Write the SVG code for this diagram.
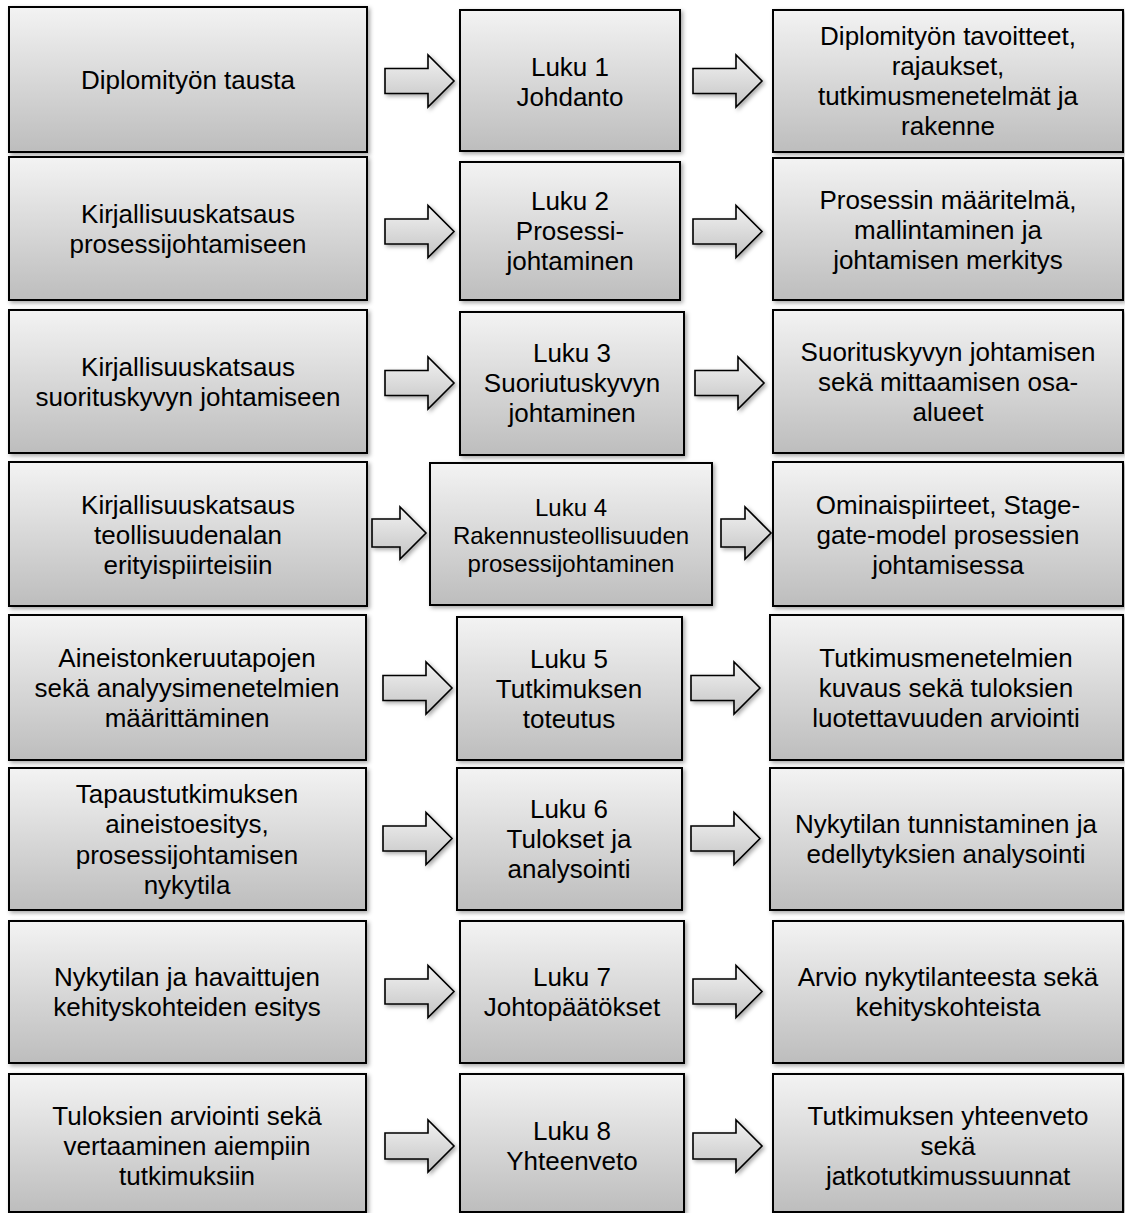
<svg xmlns="http://www.w3.org/2000/svg" width="1125" height="1213" viewBox="0 0 1125 1213">
  <defs>
    <linearGradient id="boxFill" x1="0" y1="0" x2="0" y2="1">
      <stop offset="0" stop-color="#f3f3f3"/>
      <stop offset="1" stop-color="#bdbdbd"/>
    </linearGradient>
    <linearGradient id="arrowFill" x1="0" y1="0" x2="0" y2="1">
      <stop offset="0" stop-color="#f2f2f2"/>
      <stop offset="1" stop-color="#c4c4c4"/>
    </linearGradient>
    <filter id="shadow" x="-5%" y="-5%" width="115%" height="120%">
      <feDropShadow dx="2" dy="2" stdDeviation="2" flood-color="#000" flood-opacity="0.35"/>
    </filter>
  </defs>
  <style>
    .box { fill: url(#boxFill); stroke: #000; stroke-width: 2; filter: url(#shadow); }
    .arrow { fill: url(#arrowFill); stroke: #000; stroke-width: 1.6; stroke-linejoin: miter; filter: url(#shadow); }
    text { font-family: "Liberation Sans", Arial, sans-serif; font-size: 26px; fill: #000; text-anchor: middle; }
    text.small { font-size: 24px; }
  </style>
  <rect width="1125" height="1213" fill="#fff"/>

  <!-- connectors: block arrows between the columns -->
  <g id="connectors">
    <path class="arrow" d="M385,68.5 H428 V55 L454,81 L428,107 V93.5 H385 Z"/>
    <path class="arrow" d="M693,68.5 H736 V55 L762,81 L736,107 V93.5 H693 Z"/>
    <path class="arrow" d="M385,219 H428 V205.5 L454,231.5 L428,257.5 V244 H385 Z"/>
    <path class="arrow" d="M693,219 H736 V205.5 L762,231.5 L736,257.5 V244 H693 Z"/>
    <path class="arrow" d="M385,370.5 H428 V357 L454,383 L428,409 V395.5 H385 Z"/>
    <path class="arrow" d="M695,370.5 H738 V357 L764,383 L738,409 V395.5 H695 Z"/>
    <path class="arrow" d="M372,519 H400 V507 L426,533 L400,559 V547 H372 Z"/>
    <path class="arrow" d="M721,519 H745 V507 L771,533 L745,559 V547 H721 Z"/>
    <path class="arrow" d="M383,675.5 H426 V662 L452,688 L426,714 V700.5 H383 Z"/>
    <path class="arrow" d="M691,675.5 H734 V662 L760,688 L734,714 V700.5 H691 Z"/>
    <path class="arrow" d="M383,826 H426 V812.5 L452,838.5 L426,864.5 V851 H383 Z"/>
    <path class="arrow" d="M691,826 H734 V812.5 L760,838.5 L734,864.5 V851 H691 Z"/>
    <path class="arrow" d="M385,979 H428 V965.5 L454,991.5 L428,1017.5 V1004 H385 Z"/>
    <path class="arrow" d="M693,979 H736 V965.5 L762,991.5 L736,1017.5 V1004 H693 Z"/>
    <path class="arrow" d="M385,1133 H428 V1120 L454,1146 L428,1172 V1159 H385 Z"/>
    <path class="arrow" d="M693,1133 H736 V1120 L762,1146 L736,1172 V1159 H693 Z"/>
  </g>

  <!-- row 1 -->
  <g id="r1-left"><rect class="box" x="9" y="7" width="358" height="145"/>
    <text x="188" y="89">Diplomityön tausta</text></g>
  <g id="r1-mid"><rect class="box" x="460" y="10" width="220" height="141"/>
    <text x="570" y="76">Luku 1</text><text x="570" y="106">Johdanto</text></g>
  <g id="r1-right"><rect class="box" x="773" y="10" width="350" height="142"/>
    <text x="948" y="45">Diplomityön tavoitteet,</text><text x="948" y="75">rajaukset,</text>
    <text x="948" y="105">tutkimusmenetelmät ja</text><text x="948" y="135">rakenne</text></g>

  <!-- row 2 -->
  <g id="r2-left"><rect class="box" x="9" y="157" width="358" height="143"/>
    <text x="188" y="223">Kirjallisuuskatsaus</text><text x="188" y="253">prosessijohtamiseen</text></g>
  <g id="r2-mid"><rect class="box" x="460" y="162" width="220" height="138"/>
    <text x="570" y="210">Luku 2</text><text x="570" y="240">Prosessi-</text><text x="570" y="270">johtaminen</text></g>
  <g id="r2-right"><rect class="box" x="773" y="158" width="350" height="142"/>
    <text x="948" y="209">Prosessin määritelmä,</text><text x="948" y="239">mallintaminen ja</text>
    <text x="948" y="269">johtamisen merkitys</text></g>

  <!-- row 3 -->
  <g id="r3-left"><rect class="box" x="9" y="310" width="358" height="143"/>
    <text x="188" y="376">Kirjallisuuskatsaus</text><text x="188" y="406">suorituskyvyn johtamiseen</text></g>
  <g id="r3-mid"><rect class="box" x="460" y="312" width="224" height="143"/>
    <text x="572" y="362">Luku 3</text><text x="572" y="392">Suoriutuskyvyn</text><text x="572" y="422">johtaminen</text></g>
  <g id="r3-right"><rect class="box" x="773" y="310" width="350" height="143"/>
    <text x="948" y="361">Suorituskyvyn johtamisen</text><text x="948" y="391">sekä mittaamisen osa-</text>
    <text x="948" y="421">alueet</text></g>

  <!-- row 4 -->
  <g id="r4-left"><rect class="box" x="9" y="462" width="358" height="144"/>
    <text x="188" y="514">Kirjallisuuskatsaus</text><text x="188" y="544">teollisuudenalan</text>
    <text x="188" y="574">erityispiirteisiin</text></g>
  <g id="r4-mid"><rect class="box" x="430" y="463" width="282" height="142"/>
    <text class="small" x="571" y="516">Luku 4</text><text class="small" x="571" y="544">Rakennusteollisuuden</text>
    <text class="small" x="571" y="572">prosessijohtaminen</text></g>
  <g id="r4-right"><rect class="box" x="773" y="462" width="350" height="144"/>
    <text x="948" y="514">Ominaispiirteet, Stage-</text><text x="948" y="544">gate-model prosessien</text>
    <text x="948" y="574">johtamisessa</text></g>

  <!-- row 5 -->
  <g id="r5-left"><rect class="box" x="9" y="615" width="357" height="145"/>
    <text x="187" y="667">Aineistonkeruutapojen</text><text x="187" y="697">sekä analyysimenetelmien</text>
    <text x="187" y="727">määrittäminen</text></g>
  <g id="r5-mid"><rect class="box" x="457" y="617" width="225" height="143"/>
    <text x="569" y="668">Luku 5</text><text x="569" y="698">Tutkimuksen</text><text x="569" y="728">toteutus</text></g>
  <g id="r5-right"><rect class="box" x="770" y="615" width="353" height="145"/>
    <text x="946" y="667">Tutkimusmenetelmien</text><text x="946" y="697">kuvaus sekä tuloksien</text>
    <text x="946" y="727">luotettavuuden arviointi</text></g>

  <!-- row 6 -->
  <g id="r6-left"><rect class="box" x="9" y="768" width="357" height="142"/>
    <text x="187" y="803">Tapaustutkimuksen</text><text x="187" y="833">aineistoesitys,</text>
    <text x="187" y="864">prosessijohtamisen</text><text x="187" y="894">nykytila</text></g>
  <g id="r6-mid"><rect class="box" x="457" y="768" width="225" height="142"/>
    <text x="569" y="818">Luku 6</text><text x="569" y="848">Tulokset ja</text><text x="569" y="878">analysointi</text></g>
  <g id="r6-right"><rect class="box" x="770" y="768" width="353" height="142"/>
    <text x="946" y="833">Nykytilan tunnistaminen ja</text><text x="946" y="863">edellytyksien analysointi</text></g>

  <!-- row 7 -->
  <g id="r7-left"><rect class="box" x="9" y="921" width="357" height="142"/>
    <text x="187" y="986">Nykytilan ja havaittujen</text><text x="187" y="1016">kehityskohteiden esitys</text></g>
  <g id="r7-mid"><rect class="box" x="460" y="921" width="224" height="142"/>
    <text x="572" y="986">Luku 7</text><text x="572" y="1016">Johtopäätökset</text></g>
  <g id="r7-right"><rect class="box" x="773" y="921" width="350" height="142"/>
    <text x="948" y="986">Arvio nykytilanteesta sekä</text><text x="948" y="1016">kehityskohteista</text></g>

  <!-- row 8 -->
  <g id="r8-left"><rect class="box" x="9" y="1074" width="357" height="138"/>
    <text x="187" y="1125">Tuloksien arviointi sekä</text><text x="187" y="1155">vertaaminen aiempiin</text>
    <text x="187" y="1185">tutkimuksiin</text></g>
  <g id="r8-mid"><rect class="box" x="460" y="1074" width="224" height="138"/>
    <text x="572" y="1140">Luku 8</text><text x="572" y="1170">Yhteenveto</text></g>
  <g id="r8-right"><rect class="box" x="773" y="1074" width="350" height="138"/>
    <text x="948" y="1125">Tutkimuksen yhteenveto</text><text x="948" y="1155">sekä</text>
    <text x="948" y="1185">jatkotutkimussuunnat</text></g>
</svg>
